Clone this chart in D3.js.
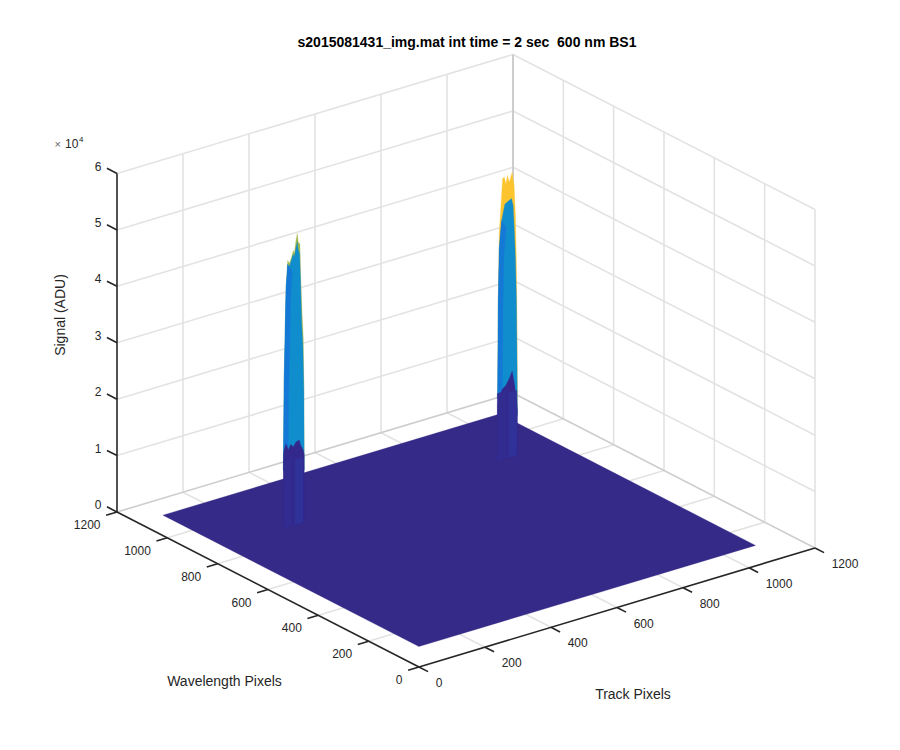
<!DOCTYPE html>
<html>
<head>
<meta charset="utf-8">
<script src="https://cdnjs.cloudflare.com/ajax/libs/d3/7.8.5/d3.min.js"></script>
<style>
html,body{margin:0;padding:0;background:#fff}
text{font-family:"Liberation Sans",Arial,sans-serif;fill:#262626;white-space:pre}
</style>
</head>
<body>
<svg id="c" width="900" height="750"></svg>
<script>
const chartTitle = "s2015081431_img.mat int time = 2 sec  600 nm BS1";
const trackLabel = "Track Pixels";
const wavelengthLabel = "Wavelength Pixels";
const signalLabel = "Signal (ADU)";
const trackTicks = [0,200,400,600,800,1000,1200];
const wavelengthTicks = [0,200,400,600,800,1000,1200];
const signalTicks = [0,10000,20000,30000,40000,50000,60000];
const floorTrack = [76,1096];
const floorWavelength = [100,1117];

// spike 1 (track ~290, wavelength ~877)
const spikeACentre = [290,877];
const spikeAOffsets = [-32,-30,-27,-24,-19,-14,-7,-2,1,6,10,13,18,20,24,28,30,31];
const spikeASignal = [10300,25000,33800,42600,47200,46600,47600,48700,48100,50300,51500,49900,49500,44200,37600,32800,23900,9200];
const spikeABlueOffsets = [-32,-30,-27,-24,-19,-14,-7,-2,1,6,10,13,17,20,23,27,30,31];
const spikeABlueSignal = [10300,25000,33800,42300,46500,46000,47200,48000,47500,49000,50000,48500,47800,42500,35500,31000,23000,9200];
const spikeANavyOffsets = [-32,-30,-24,-17,-10,-2,6,16,20,28,31,31,-32];
const spikeANavySignal = [13000,13800,14800,13600,14500,13900,14600,14800,13800,12800,12000,0,0];

// spike 2 (track ~947, wavelength ~890)
const spikeBCentre = [947,890];
const spikeBOffsets = [-30,-28,-25,-18,-15,-10,-5,0,5,14,20,24,27,29,30];
const spikeBSignal = [11100,28800,40500,46900,49800,50000,48700,50100,48800,50400,48000,42600,33700,21800,7000];
const spikeBBlueOffsets = [-30,-28,-25,-18,-8,2,12,17,20,24,27,29,30];
const spikeBBlueSignal = [11100,28000,37600,42400,45200,45500,45800,44500,40900,34900,27800,15900,7000];
const spikeBNavyOffsets = [-30,-28,-16,-5,5,14,20,27,30,30,-30];
const spikeBNavySignal = [10000,10800,12500,13000,14000,15200,13200,10100,8000,0,0];

// lighter folds low on each spike: [offset from, offset to, signal top]
const foldOffsets = [[-31,-6,12000],[3,28,11500]];
const foldColors = ["#322c91","#30329a"];

const T = d3.scaleLinear().domain([0,1200]);
const txX = T.copy().range([0,396]), txY = T.copy().range([0,-119]);
const wxX = T.copy().range([0,-302]), wxY = T.copy().range([0,-155]);
const zY = d3.scaleLinear().domain([0,60000]).range([0,-338.5]);
const O = [419,667];
const P = (t,w,z=0)=>[O[0]+txX(t)+wxX(w), O[1]+txY(t)+wxY(w)+zY(z)];

const svg = d3.select("#c");
const line = d3.line();
const seg = (a,b,col,wd)=>svg.append("path").attr("d",line([a,b])).attr("fill","none").attr("stroke",col).attr("stroke-width",wd);
const poly = (pts,col)=>svg.append("path").attr("d",line(pts)+"Z").attr("fill",col).attr("stroke",col).attr("stroke-width",0.3);

const G="#e3e3e3", B="#cdcdcd", A="#262626";
const tMax=1200,wMax=1200,zMax=60000;

// wall grids
signalTicks.forEach(z=>{
  if(z===0) return;
  seg(P(0,wMax,z),P(tMax,wMax,z),G,1.6);
  seg(P(tMax,wMax,z),P(tMax,0,z),G,1.6);
});
trackTicks.slice(1,-1).forEach(t=>seg(P(t,wMax,0),P(t,wMax,zMax),G,1.6));
wavelengthTicks.slice(1,-1).forEach(w=>seg(P(tMax,w,0),P(tMax,w,zMax),G,1.6));
seg(P(tMax,0,0),P(tMax,0,zMax),G,1.6);
// floor grid
trackTicks.slice(1,-1).forEach(t=>seg(P(t,0,0),P(t,wMax,0),G,1.6));
wavelengthTicks.slice(1,-1).forEach(w=>seg(P(0,w,0),P(tMax,w,0),G,1.6));
// back edges
seg(P(0,wMax,0),P(tMax,wMax,0),B,1.6);
seg(P(tMax,wMax,0),P(tMax,0,0),B,1.6);
seg(P(tMax,wMax,0),P(tMax,wMax,zMax),"#c8c8c8",1.8);

// axes
seg(P(0,wMax,0),P(0,wMax,zMax),A,1.6);
seg(P(0,0,0),P(0,wMax,0),A,1.6);
seg(P(0,0,0),P(tMax,0,0),A,1.6);
signalTicks.forEach(z=>seg(P(0,wMax,z),P(0,wMax+40,z),A,1.6));
wavelengthTicks.forEach(w=>seg(P(0,w,0),P(-33,w,0),A,1.6));
trackTicks.forEach(t=>seg(P(t,0,0),P(t,-36,0),A,1.6));

// floor surface
const floorColor="#352a87";
poly([P(floorTrack[0],floorWavelength[0]),P(floorTrack[1],floorWavelength[0]),P(floorTrack[1],floorWavelength[1]),P(floorTrack[0],floorWavelength[1])],floorColor);

function spike(c,off,sig,blueOff,blueSig,navyOff,navySig,backCol){
  const pts=(o,s)=>o.map((d,i)=>P(c[0]+d,c[1],s[i]));
  poly(pts(off,sig),backCol);
  poly(pts(blueOff,blueSig),"#108dcd");
  const n=Math.max(2,blueOff.findIndex(d=>d>-10));
  const left=blueOff.slice(0,n).map((d,i)=>P(c[0]+d,c[1],blueSig[i]));
  const right=blueOff.slice(0,n).map((d,i)=>P(c[0]+d+14,c[1],Math.max(0,blueSig[i]-1500))).reverse();
  poly(left.concat(right),"#1479d6");
  poly(pts(navyOff,navySig),"#33298d");
  foldOffsets.forEach((f,i)=>{
    poly([P(c[0]+f[0],c[1],f[2]),P(c[0]+f[1],c[1],f[2]),P(c[0]+f[1],c[1],0),P(c[0]+f[0],c[1],0)],foldColors[i]);
  });
}
spike(spikeACentre,spikeAOffsets,spikeASignal,spikeABlueOffsets,spikeABlueSignal,spikeANavyOffsets,spikeANavySignal,"#9fb64a");
spike(spikeBCentre,spikeBOffsets,spikeBSignal,spikeBBlueOffsets,spikeBBlueSignal,spikeBNavyOffsets,spikeBNavySignal,"#fcc52f");

// tick labels
const lab=(x,y,s,anchor,size=12)=>svg.append("text").attr("x",x).attr("y",y).attr("text-anchor",anchor).attr("dominant-baseline","central").attr("font-size",size).text(s);
signalTicks.forEach(z=>{const p=P(0,wMax,z);lab(p[0]-15.5,p[1]-7,z/10000,"end")});
wavelengthTicks.forEach(w=>{const p=P(0,w,0);lab(p[0]-16.5,p[1]+13,w,"end")});
trackTicks.forEach(t=>{const p=P(t,0,0);lab(p[0]+16.7,p[1]+16,t,"start")});

// exponent
svg.append("text").attr("x",54.5).attr("y",147.5).attr("font-size",11).style("fill","#666").text("×");
svg.append("text").attr("x",65).attr("y",147.5).attr("font-size",12).text("10");
svg.append("text").attr("x",79).attr("y",142).attr("font-size",8).text("4");

// axis labels & title
lab(633,694,trackLabel,"middle",14);
lab(224.5,681,wavelengthLabel,"middle",14);
svg.append("text").attr("transform","translate(60,315) rotate(-90)").attr("text-anchor","middle").attr("dominant-baseline","central").attr("font-size",14).text(signalLabel);
svg.append("text").attr("x",467).attr("y",42).attr("text-anchor","middle").attr("dominant-baseline","central").attr("font-size",14).attr("font-weight","bold").style("fill","#000").text(chartTitle);
</script>
</body>
</html>
